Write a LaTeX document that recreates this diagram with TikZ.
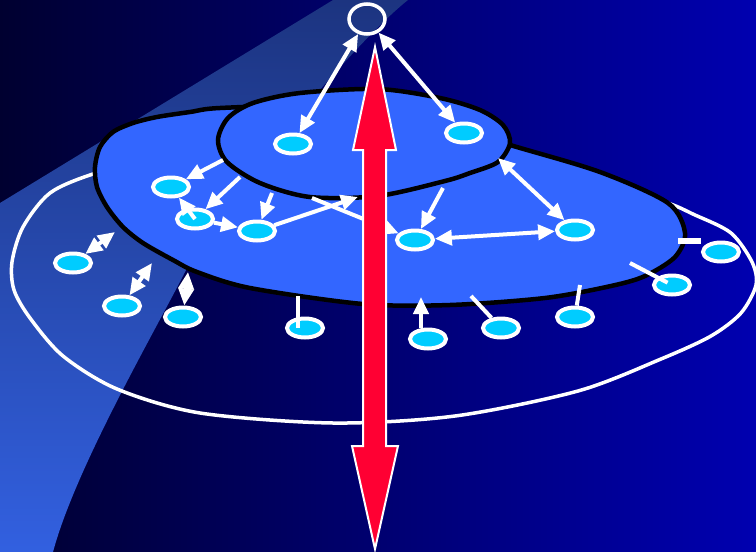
\documentclass[tikz,border=0pt]{standalone}
\usepackage{tikz}
\usepackage{xcolor}
\usetikzlibrary{arrows.meta,shapes.geometric}
\definecolor{bgleft}{RGB}{0,0,48}
\definecolor{bgright}{RGB}{0,0,176}
\definecolor{beamtop}{RGB}{28,52,128}
\definecolor{beambot}{RGB}{50,96,224}
\definecolor{disk}{RGB}{51,102,255}
\definecolor{host}{RGB}{0,204,255}
\definecolor{pole}{RGB}{255,0,51}

\begin{document}
\begin{tikzpicture}[x=1pt, y=-1pt, >={Triangle[length=17pt,width=15pt]},
    peer/.style={ellipse, draw=white, line width=4pt, fill=host, minimum width=36pt, minimum height=19pt, inner sep=0pt},
    link/.style={white, line width=4pt}]
    \useasboundingbox (0,0) rectangle (756,552);

    % Draw background and light beam
    \shade[left color=bgleft, right color=bgright] (0,0) rectangle (756,552);
    \shade[top color=beamtop, bottom color=beambot] (333,0) -- (408,0) .. controls (350,46) and (215,210) .. (183,276) .. controls (150,340) and (75,470) .. (53,552) -- (0,552) -- (0,203) -- cycle;

    % Draw outer ring
    \draw[white, line width=3.5pt] plot[smooth cycle, tension=0.5] coordinates {(93,174) (50,193) (23,227) (12,262) (14,290) (30,318) (63,356) (117,389) (200,413) (333,423) (455,416) (578,391) (661,359) (711,336) (741,313) (756,285) (752,262) (731,233) (695,215) (658,200) (560,178) (400,158) (250,152) (150,160)};

    % Draw middle disk
    \draw[line width=4.5pt, fill=disk] plot[smooth cycle, tension=0.5] coordinates {(95,167) (100,147) (113,132) (133,123) (157,117) (190,112) (220,108) (320,106) (420,118) (510,145) (600,172) (668,203) (685,233) (675,257) (645,276) (611,286) (545,298) (450,305) (363,304) (250,288) (197,272) (173,260) (143,243) (123,227) (107,207) (97,187)};

    % Draw upper disk
    \draw[line width=4.5pt, fill=disk] plot[smooth cycle, tension=0.5] coordinates {(218,140) (228,118) (253,103) (300,93) (378,89) (440,98) (480,110) (503,125) (510,143) (498,162) (470,173) (445,181) (378,196) (310,197) (260,183) (227,162)};

    % Points on the disks and the ring
    \coordinate (u1) at (223,160);
    \coordinate (u2) at (240,177);
    \coordinate (u3) at (272,193);
    \coordinate (u4) at (358,197);
    \coordinate (u5) at (312,198);
    \coordinate (u6) at (443,188);
    \coordinate (u7) at (498,158);
    \coordinate (o1) at (115,232);
    \coordinate (o2) at (152,263);
    \coordinate (o3) at (188,272);
    \coordinate (o4) at (298,296);
    \coordinate (o5) at (421,297);
    \coordinate (o6) at (471,296);
    \coordinate (o7) at (580,285);
    \coordinate (o8) at (630,263);
    \coordinate (o9) at (678,241);

    % Draw hosts
    \node[ellipse, draw=white, line width=3.5pt, minimum width=36pt, minimum height=30pt] (top) at (367,19) {};
    \node[peer] (a1) at (293,144) {};
    \node[peer] (a2) at (464,133) {};
    \node[peer] (b1) at (171,187) {};
    \node[peer] (b2) at (195,219) {};
    \node[peer] (b3) at (257,231) {};
    \node[peer] (b4) at (415,240) {};
    \node[peer] (b5) at (575,230) {};
    \node[peer] (c1) at (73,263) {};
    \node[peer] (c2) at (122,306) {};
    \node[peer] (c3) at (183,317) {};
    \node[peer] (c4) at (305,328) {};
    \node[peer] (c5) at (428,339) {};
    \node[peer] (c6) at (501,328) {};
    \node[peer] (c7) at (575,317) {};
    \node[peer] (c8) at (672,285) {};
    \node[peer] (c9) at (721,252) {};

    % Links
    \draw[link, <->] (top) -- (a1);
    \draw[link, <->] (top) -- (a2);
    \draw[link, ->] (u1) -- (b1);
    \draw[link, ->] (u2) -- (b2);
    \draw[link, ->] (u3) -- (b3);
    \draw[link, ->] (b2.center) -- (b1);
    \draw[link, ->] (b2) -- (b3);
    \draw[link, ->] (b3) -- (u4);
    \draw[link, ->] (u5) -- (b4);
    \draw[link, ->] (u6) -- (b4);
    \draw[link, <->] (u7) -- (b5);
    \draw[link, <->] (b4) -- (b5);
    \draw[link, <->] (c1) -- (o1);
    \draw[link, <->] (c2) -- (o2);
    \draw[link, <->] (c3) -- (o3);
    \draw[link] (o4) -- (o4 |- c4.center);
    \draw[link, ->] (o5 |- c5.north) -- (o5);
    \draw[link] (o6) -- (c6);
    \draw[link] (o7) -- (c7);
    \draw[link, shorten >=5pt] (o8) -- (c8.center);
    \draw[link, line width=5.5pt] (o9) -- (o9 -| c9.west);

    % Red double arrow
    \draw[white, line width=2pt, fill=pole] (375,47) -- (396,150) -- (386,150) -- (386,446) -- (398,446) -- (375,549) -- (352,446) -- (363,446) -- (363,150) -- (353,150) -- cycle;
\end{tikzpicture}
\end{document}
